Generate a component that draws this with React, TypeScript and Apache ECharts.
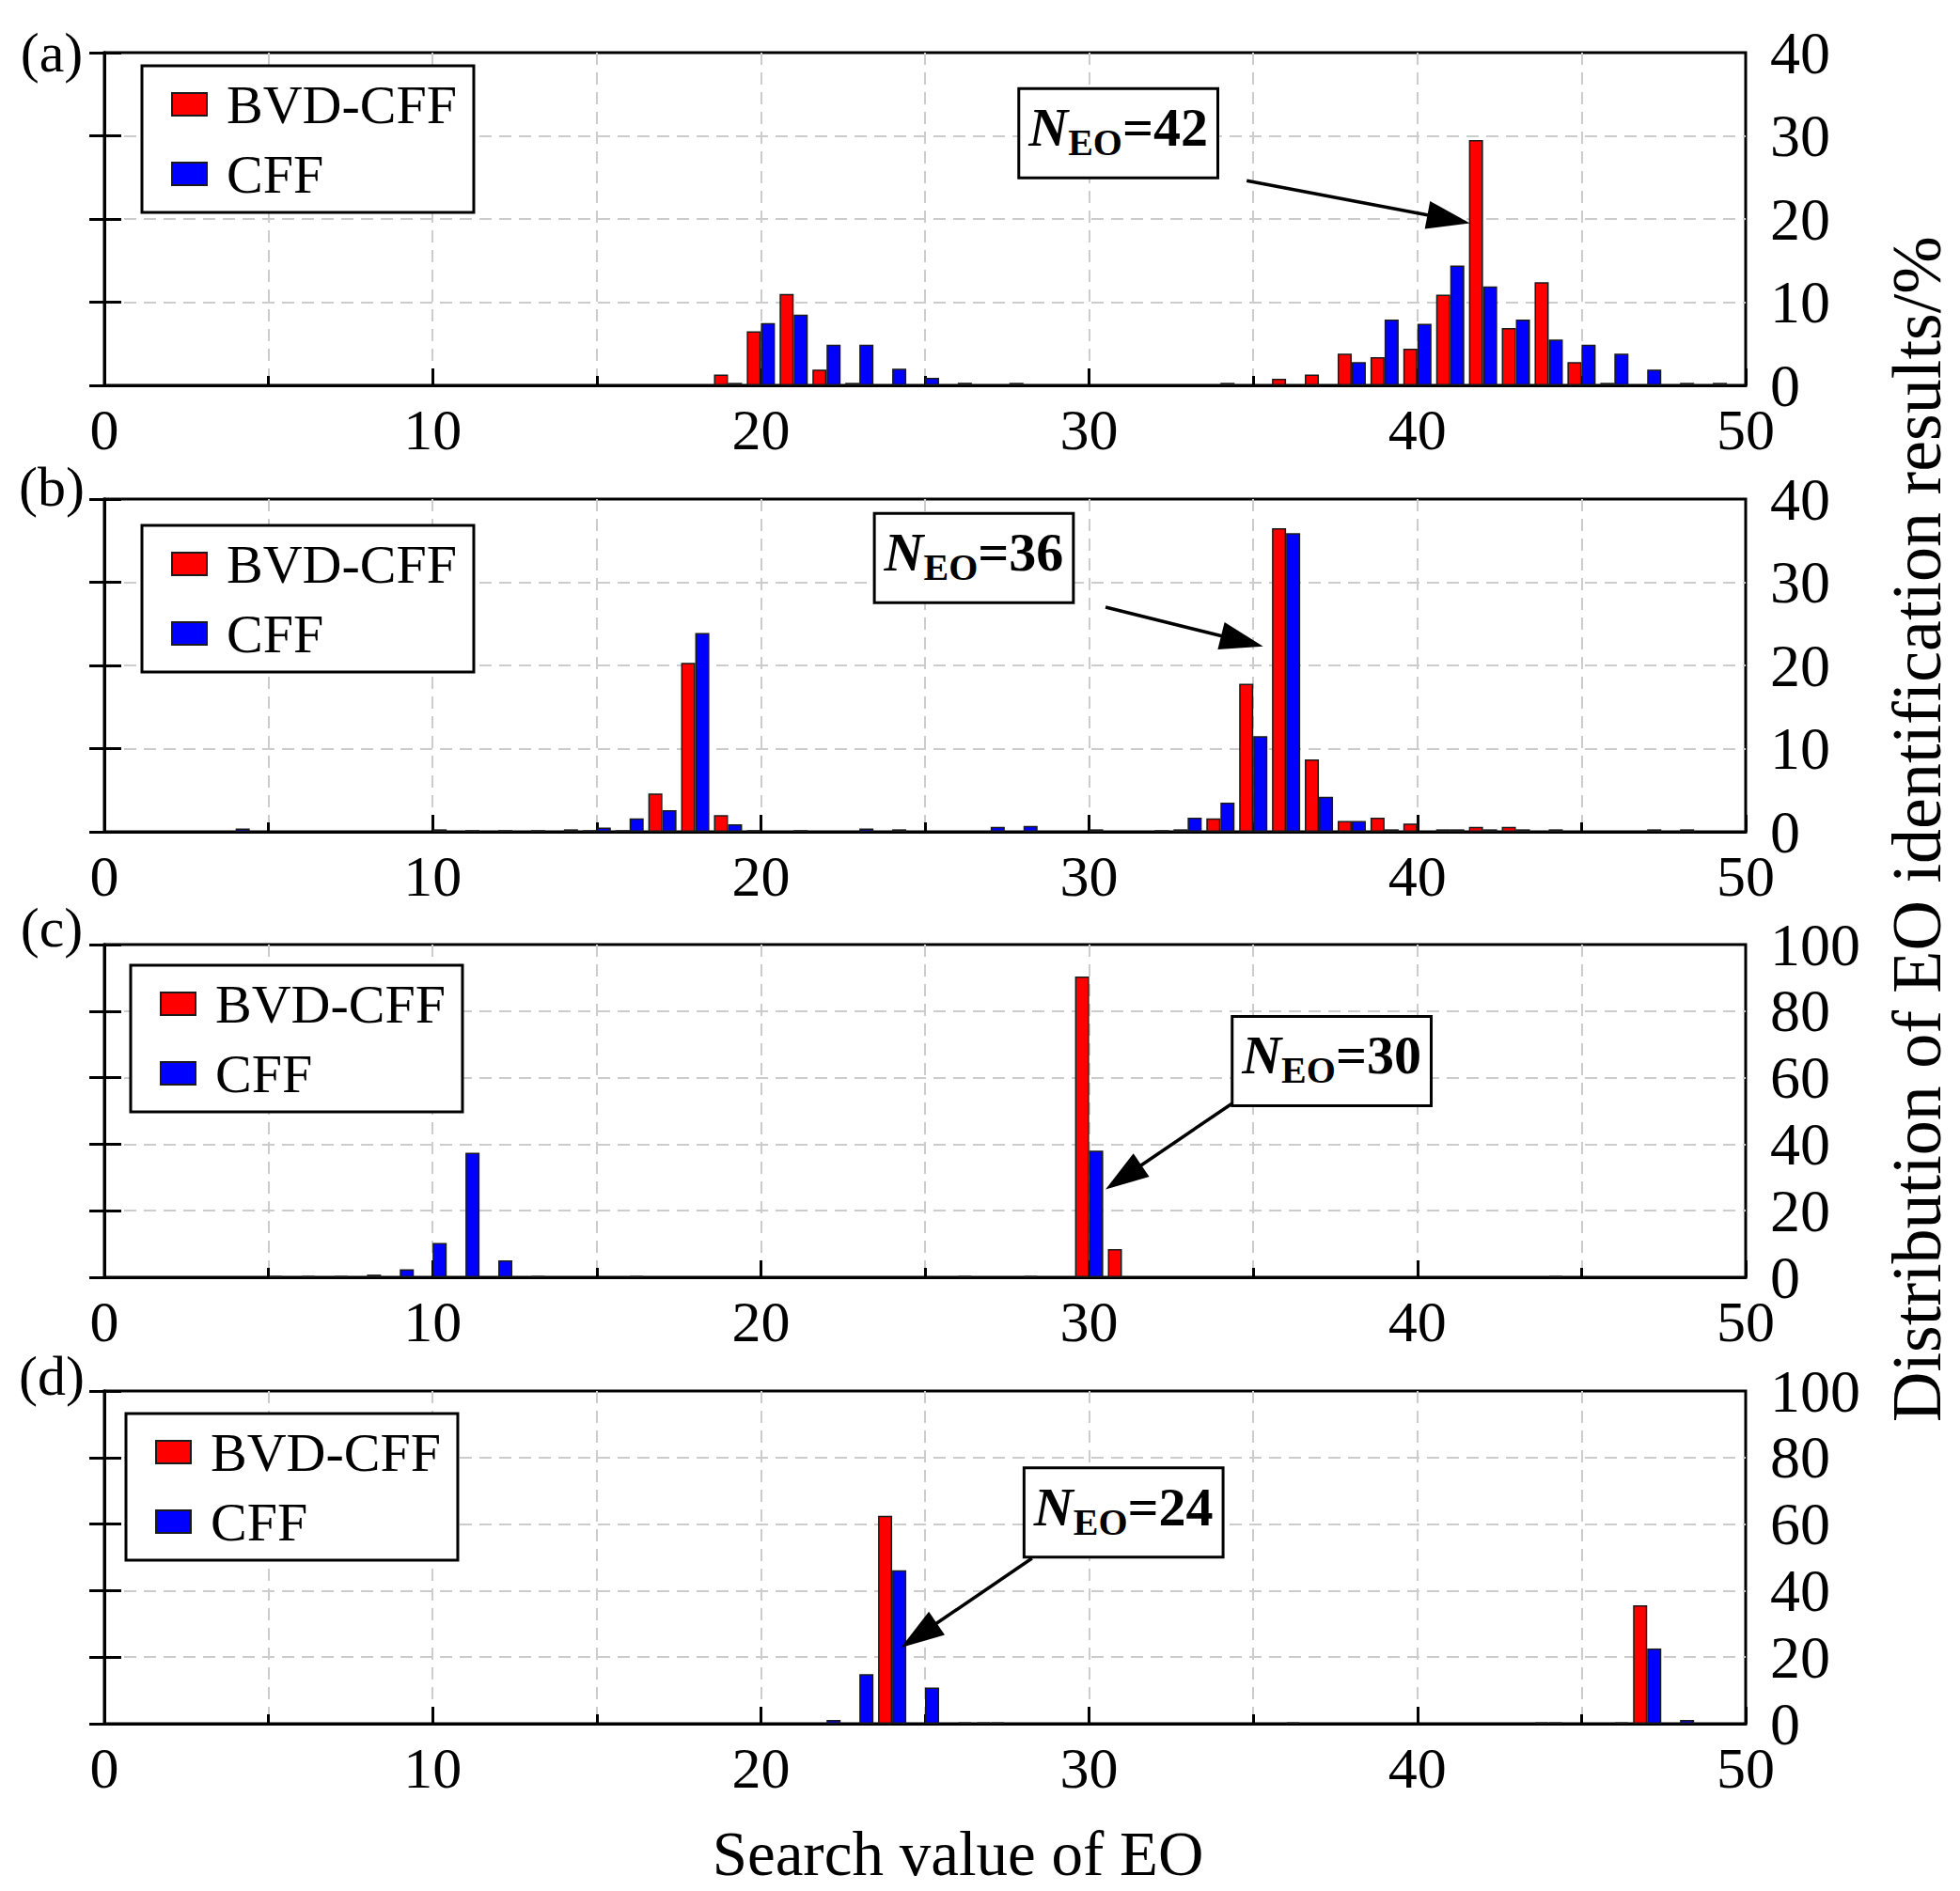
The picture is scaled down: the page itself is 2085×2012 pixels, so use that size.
import { useEffect, useRef } from 'react'
import * as echarts from 'echarts'

type Pt = [number, number]

// (a) search value of EO -> share of identification results, %
const aBvd: Pt[] = [
  [19, 1.3], [20, 6.5], [21, 11.0], [22, 1.9], [23, 0.3], [28, 0.3],
  [36, 0.8], [37, 1.3], [38, 3.8], [39, 3.4], [40, 4.4], [41, 10.9],
  [42, 29.5], [43, 6.9], [44, 12.4], [45, 2.8], [46, 0.3],
]
const aCff: Pt[] = [
  [19, 0.3], [20, 7.5], [21, 8.5], [22, 4.9], [23, 4.9], [24, 2.0], [25, 0.9],
  [26, 0.3], [34, 0.3], [38, 2.8], [39, 7.9], [40, 7.4], [41, 14.4], [42, 11.9],
  [43, 7.9], [44, 5.5], [45, 4.9], [46, 3.8], [47, 1.9], [48, 0.3], [49, 0.3],
]

// (b)
const bBvd: Pt[] = [
  [15, 0.2], [16, 0.2], [17, 4.6], [18, 20.3], [19, 2.0], [20, 0.2],
  [33, 0.3], [34, 1.6], [35, 17.8], [36, 36.5], [37, 8.7], [38, 1.3],
  [39, 1.7], [40, 1.0], [41, 0.3], [42, 0.6], [43, 0.6],
]
const bCff: Pt[] = [
  [4, 0.4], [10, 0.3], [11, 0.2], [12, 0.2], [13, 0.2], [14, 0.3], [15, 0.5],
  [16, 1.6], [17, 2.6], [18, 23.9], [19, 0.9], [21, 0.2], [23, 0.4], [24, 0.3],
  [27, 0.6], [28, 0.7], [30, 0.3], [32, 0.2], [33, 1.7], [34, 3.5], [35, 11.5],
  [36, 35.9], [37, 4.2], [38, 1.3], [39, 0.3], [41, 0.3], [42, 0.3], [43, 0.3],
  [44, 0.3], [47, 0.3], [48, 0.3],
]

// (c)
const cBvd: Pt[] = [[30, 90.4], [31, 8.5]]
const cCff: Pt[] = [
  [5, 0.4], [6, 0.4], [7, 0.4], [8, 0.8], [9, 2.4], [10, 10.3], [11, 37.4],
  [12, 5.1], [13, 0.4], [16, 0.4], [26, 0.4], [28, 0.4], [30, 38.1], [44, 0.4],
]

// (d)
const dBvd: Pt[] = [[24, 62.5], [27, 0.4], [44, 0.4], [47, 35.6]]
const dCff: Pt[] = [
  [22, 1.1], [23, 14.9], [24, 46.1], [25, 10.9], [26, 0.4], [27, 0.4],
  [36, 0.4], [44, 0.4], [46, 0.4], [47, 22.6], [48, 1.1],
]

const bvdSets = [aBvd, bBvd, cBvd, dBvd]
const cffSets = [aCff, bCff, cCff, dCff]
const panelLabels = ['(a)', '(b)', '(c)', '(d)']
const yMax = [40, 40, 100, 100]
const yStep = [10, 10, 20, 20]
const nEo = ['42', '36', '30', '24']

// annotation anchors in data units: box top-left, arrow tail, arrow tip
const noteBox: Pt[] = [[27.9, 35.5], [23.5, 38.1], [34.4, 78], [28.06, 76.5]]
const noteFrom: Pt[] = [[34.8, 24.6], [30.5, 27.0], [34.35, 52.2], [28.26, 49.7]]
const noteTo: Pt[] = [[41.6, 19.5], [35.3, 22.3], [30.5, 26.4], [24.27, 22.9]]

const FONT = '"Liberation Serif", "DejaVu Serif", serif'
const W = 2085
const H = 2012
const gridTops = [56, 531, 1005, 1480]
const gridH = 354
const legendPos = [[151, 70], [151, 559], [139, 1027], [134, 1504]]
const labelY = [56, 518, 987, 1464]

const dash = { type: [13, 8] as number[], color: '#cccccc', width: 2 }

export default function App() {
  const ref = useRef<HTMLDivElement>(null)

  useEffect(() => {
    const el = ref.current
    if (!el) return
    const chart = echarts.init(el, null, { renderer: 'svg' })

    const grid = gridTops.map(top => ({
      left: 111, right: 228, top, height: gridH,
      show: true, borderColor: '#000', borderWidth: 3,
    }))

    const xAxis = gridTops.map((_, i) => ({
      type: 'value', gridIndex: i, min: 0, max: 50, interval: 10,
      axisLine: { show: true, lineStyle: { color: '#000', width: 3 } },
      axisTick: { show: true, inside: true, length: 18, lineStyle: { color: '#000', width: 3 } },
      minorTick: { show: true, splitNumber: 2, length: 10, lineStyle: { color: '#000', width: 3 } },
      splitLine: { show: true, showMinLine: false, showMaxLine: false, lineStyle: dash },
      minorSplitLine: { show: true, lineStyle: dash },
      axisLabel: { fontSize: 62, lineHeight: 46, fontFamily: FONT, color: '#000', margin: 24 },
    }))

    const yAxis: any[] = []
    gridTops.forEach((_, i) => {
      yAxis.push({
        type: 'value', gridIndex: i, position: 'right', min: 0, max: yMax[i], interval: yStep[i],
        axisLine: { show: true, lineStyle: { color: '#000', width: 3 } },
        axisTick: { show: true, inside: true, length: 16, lineStyle: { color: '#000', width: 3 } },
        splitLine: { show: true, showMinLine: false, showMaxLine: false, lineStyle: dash },
        axisLabel: { fontSize: 64, lineHeight: 46, fontFamily: FONT, color: '#000', margin: 26 },
      })
      yAxis.push({
        type: 'value', gridIndex: i, position: 'left', min: 0, max: yMax[i], interval: yStep[i],
        axisLine: { show: true, lineStyle: { color: '#000', width: 3 } },
        axisTick: { show: true, inside: true, length: 18, lineStyle: { color: '#000', width: 3 } },
        splitLine: { show: false },
        axisLabel: { show: false },
      })
    })

    const series: any[] = []
    gridTops.forEach((_, i) => {
      series.push({
        name: 'BVD-CFF', type: 'bar', xAxisIndex: i, yAxisIndex: i * 2,
        data: bvdSets[i], barWidth: 15, barGap: '0%',
        itemStyle: { color: '#ff0000', borderColor: '#1a1a1a', borderWidth: 1.5 },
      })
      series.push({
        name: 'CFF', type: 'bar', xAxisIndex: i, yAxisIndex: i * 2,
        data: cffSets[i], barWidth: 15, barGap: '0%',
        itemStyle: { color: '#0000ff', borderColor: '#1a1a1a', borderWidth: 1.5 },
      })
    })

    const legend = legendPos.map(([left, top]) => ({
      left, top, orient: 'vertical', data: ['BVD-CFF', 'CFF'], icon: 'rect',
      itemWidth: 37, itemHeight: 24, itemGap: 16, padding: [12, 18, 12, 31],
      borderColor: '#000', borderWidth: 3, backgroundColor: '#fff', selectedMode: false,
      textStyle: { fontSize: 58, fontFamily: FONT, color: '#000', padding: [0, 0, 0, 16] },
    }))

    chart.setOption({
      animation: false,
      backgroundColor: '#fff',
      grid, xAxis, yAxis, series, legend,
    })

    const graphic: any[] = []
    panelLabels.forEach((t, i) => {
      graphic.push({
        type: 'text', x: 55, y: labelY[i],
        style: { text: t, fontSize: 60, fontFamily: FONT, fill: '#000', align: 'center', verticalAlign: 'middle' },
      })
    })
    graphic.push({
      type: 'text', x: 1019, y: 1972,
      style: { text: 'Search value of EO', fontSize: 67, fontFamily: FONT, fill: '#000', align: 'center', verticalAlign: 'middle' },
    })
    graphic.push({
      type: 'text', x: 2039, y: 882, rotation: Math.PI / 2,
      style: {
        text: 'Distribution of EO identification results/%', fontSize: 74, fontFamily: FONT,
        fill: '#000', align: 'center', verticalAlign: 'middle',
      },
    })

    nEo.forEach((n, i) => {
      const [bx, by] = chart.convertToPixel({ gridIndex: i }, noteBox[i]) as number[]
      const [x0, y0] = chart.convertToPixel({ gridIndex: i }, noteFrom[i]) as number[]
      const [x1, y1] = chart.convertToPixel({ gridIndex: i }, noteTo[i]) as number[]
      const len = Math.hypot(x1 - x0, y1 - y0)
      const ux = (x1 - x0) / len
      const uy = (y1 - y0) / len
      const headL = 46
      const headW = 30
      const baseX = x1 - ux * headL
      const baseY = y1 - uy * headL
      graphic.push({
        type: 'text', x: bx, y: by, z: 100,
        style: {
          text: `{n|N}{s|EO}{e|=${n}}`,
          align: 'left', verticalAlign: 'top',
          backgroundColor: '#fff', borderColor: '#000', borderWidth: 3,
          padding: [4, 9, 16, 9],
          rich: {
            n: { fontSize: 58, fontStyle: 'italic', fontWeight: 'bold', fontFamily: FONT, fill: '#000', lineHeight: 72 },
            s: { fontSize: 40, fontWeight: 'bold', fontFamily: FONT, fill: '#000', lineHeight: 30, verticalAlign: 'bottom' },
            e: { fontSize: 58, fontWeight: 'bold', fontFamily: FONT, fill: '#000', lineHeight: 72 },
          },
        },
      })
      graphic.push({
        type: 'line', z: 100,
        shape: { x1: x0, y1: y0, x2: baseX + ux * 4, y2: baseY + uy * 4 },
        style: { stroke: '#000', lineWidth: 3.5 },
      })
      graphic.push({
        type: 'polygon', z: 100,
        shape: {
          points: [
            [x1, y1],
            [baseX - uy * headW / 2, baseY + ux * headW / 2],
            [baseX + uy * headW / 2, baseY - ux * headW / 2],
          ],
        },
        style: { fill: '#000' },
      })
    })

    chart.setOption({ graphic })

    return () => chart.dispose()
  }, [])

  return <div ref={ref} style={{ position: 'absolute', left: 0, top: 0, width: W, height: H }} />
}
